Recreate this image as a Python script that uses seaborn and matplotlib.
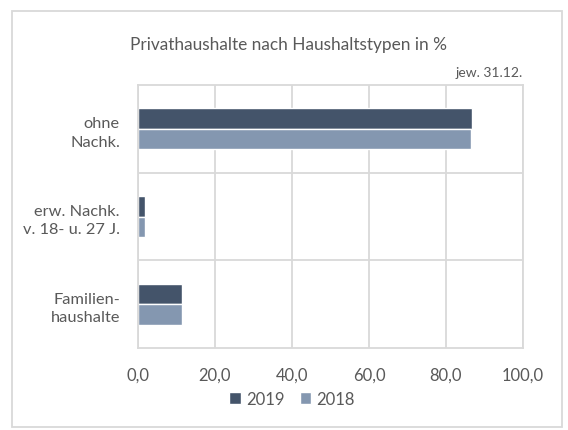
import pandas as pd
import matplotlib.pyplot as plt
import seaborn as sns
from matplotlib.patches import Rectangle

categories = ["ohne\nNachk.", "erw. Nachk.\nv. 18- u. 27 J.", "Familien-\nhaushalte"]
years = ["2019", "2018"]
values_2019 = [86.7, 1.8, 11.3]
values_2018 = [86.4, 1.9, 11.4]
x_ticks = [0, 20, 40, 60, 80, 100]
x_tick_labels = ["0,0", "20,0", "40,0", "60,0", "80,0", "100,0"]

TEXT = "#595959"
GRID = "#D9D9D9"
COLORS = {"2019": "#44546A", "2018": "#8497B0"}

df = pd.DataFrame(
    {
        "Typ": categories * 2,
        "Jahr": ["2019"] * len(categories) + ["2018"] * len(categories),
        "Anteil": values_2019 + values_2018,
    }
)

sns.set_style("white")
plt.rcParams["font.family"] = ["Lato", "DejaVu Sans"]

fig = plt.figure(figsize=(5.68, 4.31), dpi=100)
ax = fig.add_axes([138 / 568, 1 - 349.3 / 431, (523 - 138) / 568, (349.3 - 85.7) / 431])

sns.barplot(
    data=df,
    x="Anteil",
    y="Typ",
    hue="Jahr",
    hue_order=years,
    order=categories,
    palette=COLORS,
    saturation=1,
    width=0.47,
    edgecolor="white",
    linewidth=1.0,
    orient="h",
    ax=ax,
)

ax.set_xlim(0, 100)
ax.set_ylim(2.5, -0.5)
ax.set_xticks(x_ticks)
ax.set_xticklabels(x_tick_labels)
ax.set_xlabel("")
ax.set_ylabel("")

# gridlines: vertical at each tick, horizontal between the categories
for x in x_ticks:
    ax.axvline(x, color=GRID, linewidth=1.3, zorder=0)
for y in [0.5, 1.5]:
    ax.axhline(y, color=GRID, linewidth=1.3, zorder=0)
for side in ["top", "bottom", "left", "right"]:
    ax.spines[side].set_color(GRID)
    ax.spines[side].set_linewidth(1.3)

ax.tick_params(axis="x", length=0, pad=13, labelsize=11.9, labelcolor=TEXT)
ax.tick_params(axis="y", length=0, pad=13, labelsize=11.8, labelcolor=TEXT)
for lbl in ax.get_yticklabels():
    lbl.set_linespacing(1.4)

handles, labels = ax.get_legend_handles_labels()
ax.get_legend().remove()
leg = fig.legend(
    handles,
    labels,
    ncol=2,
    loc="center",
    bbox_to_anchor=(292 / 568, 1 - 400 / 431),
    frameon=False,
    fontsize=12,
    handlelength=0.7,
    handleheight=0.7,
    handletextpad=0.3,
    columnspacing=0.9,
)
for t in leg.get_texts():
    t.set_color(TEXT)

fig.text(289 / 568, 1 - 45 / 431, "Privathaushalte nach Haushaltstypen in %",
         ha="center", va="center", fontsize=12.4, color=TEXT)
fig.text(523 / 568, 1 - 73 / 431, "jew. 31.12.",
         ha="right", va="center", fontsize=10, color=TEXT)

# chart area border
fig.patches.append(Rectangle((12 / 568, 1 - 428 / 431), 550 / 568, 416 / 431,
                             transform=fig.transFigure, fill=False,
                             edgecolor=GRID, linewidth=1.3))

fig.savefig("out.png", dpi=100)
